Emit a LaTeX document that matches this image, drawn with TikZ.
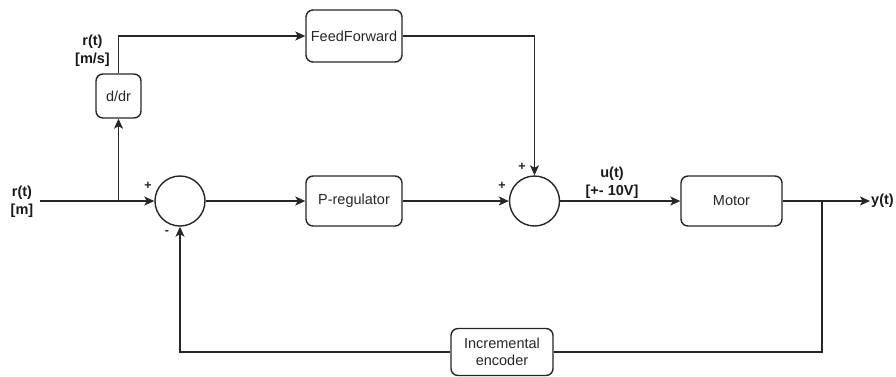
\documentclass[tikz,border=0pt]{standalone}
\usepackage{fontspec}
\setmainfont{Liberation Sans}
\usetikzlibrary{arrows.meta}
\begin{document}
\begin{tikzpicture}[x=1pt,y=-1pt,
  block/.style={draw=black!85, rounded corners=7pt, line width=1.4pt,
    font=\fontsize{14.5}{17}\selectfont, inner sep=2pt, align=center, text=black!85},
  sumnode/.style={draw=black!85, circle, minimum size=50pt, line width=1.4pt, inner sep=0pt},
  sig/.style={draw=black!85, line width=1.4pt, -{Stealth[length=10pt,width=9pt,inset=2.5pt]}},
  wire/.style={draw=black!85, line width=1.4pt},
  lbl/.style={font=\bfseries\fontsize{14.5}{18}\selectfont, align=center, inner sep=0pt, text=black!90},
  sgn/.style={font=\bfseries\fontsize{12.5}{12}\selectfont, inner sep=0pt, text=black!85}]
\useasboundingbox (0,0) rectangle (896,376);

% blocks
\node[block, minimum width=45pt, minimum height=44pt] (dd) at (118.5,96) {d/dr};
\node[block, minimum width=96pt, minimum height=52pt] (ff) at (354,36) {FeedForward};
\node[block, minimum width=96pt, minimum height=50pt] (preg) at (354,201) {P-regulator};
\node[block, minimum width=101pt, minimum height=50pt] (motor) at (731.5,201) {Motor};
\node[block, minimum width=102pt, minimum height=47pt] (enc) at (502,352) {Incremental\\encoder};

% summing junctions
\node[sumnode] (s1) at (180,201) {};
\node[sumnode] (s2) at (534.5,201) {};

% free ends and branch points
\coordinate (in) at (40,201);
\coordinate (br) at (118.5,201);
\coordinate (out) at (870,201);
\coordinate (fb) at (822,201);

% signal paths
\draw[sig] (in) -- (s1);
\draw[sig] (br) -- (dd);
\draw[sig] (dd.north) |- (ff.west);
\draw[sig] (ff.east) -| (s2.north);
\draw[sig] (s1) -- (preg);
\draw[sig] (preg) -- (s2);
\draw[sig] (s2) -- (motor);
\draw[sig] (motor.east) -- (out);
\draw[wire] (fb) |- (enc.east);
\draw[sig] (enc.west) -| (s1.south);

% signal labels
\node[lbl] (lin) at (22,202) {r(t)\\{[m]}};
\node[lbl] (lvel) at (92.5,51) {r(t)\\{[m/s]}};
\node[lbl] (lu) at (612,183) {u(t)\\{[+- 10V]}};
\node[lbl, anchor=west] (ly) at (871,201) {y(t)};

% signs at the junctions
\node[sgn] (p1) at (148,186) {+};
\node[sgn] (m1) at (167,232) {-};
\node[sgn] (p2) at (502,186) {+};
\node[sgn] (p3) at (522,167) {+};
\end{tikzpicture}
\end{document}
